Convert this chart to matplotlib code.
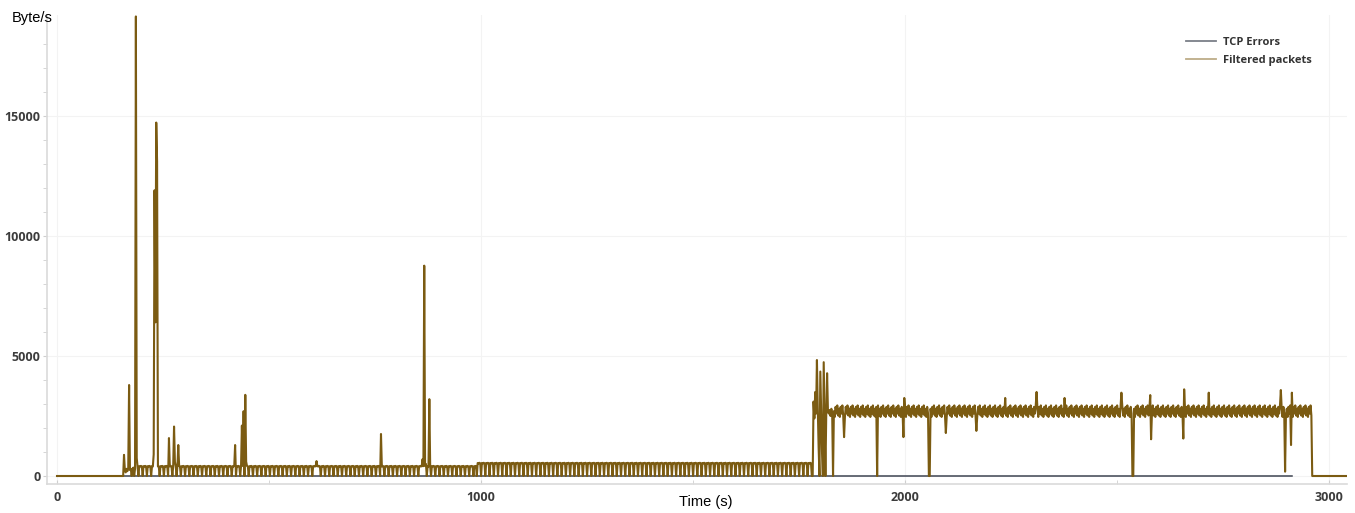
import numpy as np
import matplotlib.pyplot as plt
from matplotlib.lines import Line2D
from matplotlib.ticker import MultipleLocator

# capture sampled every 2 s
step = 2
t_end = 3042

# one period of the repeating traffic on each stretch (byte/s)
quiet_cycle = [0, 410, 395, 420, 400]
busy_cycle = [0, 540, 520, 550, 530]
load_cycle = [2460, 2880, 2600, 2940, 2520, 2800]

# stretch start / end (s)
stretch_start = [192, 990, 1834]
stretch_end = [990, 1782, 2960]
stretch_cycle = [quiet_cycle, busy_cycle, load_cycle]

# single samples: bursts and drop-outs (s, byte/s)
event_t = [158, 160, 162, 164, 166, 168, 170, 172, 174, 176, 178, 180, 182, 184, 186, 188, 190,
           228, 230, 232, 234, 236, 238, 264, 266, 276, 278, 286,
           420, 436, 440, 444, 446, 612, 764, 862, 866, 870, 878,
           1784, 1786, 1788, 1790, 1792, 1794, 1796, 1798, 1800, 1802, 1804, 1806, 1808, 1810,
           1812, 1814, 1816, 1818, 1820, 1822, 1824, 1826, 1828, 1830, 1832,
           1856, 1934, 1996, 1998, 2056, 2058, 2096, 2168, 2236, 2310, 2376,
           2510, 2536, 2538, 2578, 2580, 2656, 2658, 2716, 2886, 2896, 2910, 2912]
event_v = [880, 250, 150, 300, 200, 350, 3790, 250, 300, 0, 300, 350, 0, 300, 19140, 750, 350,
           900, 11900, 6400, 14720, 13100, 400, 1580, 400, 2060, 600, 1290,
           1290, 2100, 2700, 3380, 600, 620, 1750, 700, 8760, 500, 3200,
           3100, 2400, 3500, 2600, 4830, 2800, 1200, 0, 4350, 2600, 1000, 0, 4740, 2500,
           0, 2600, 4280, 2700, 2600, 2750, 2500, 2800, 2600, 0, 2700,
           1620, 0, 1620, 3250, 0, 0, 1790, 1880, 3250, 3500, 3250,
           3470, 0, 0, 3370, 1530, 1560, 3610, 3470, 3580, 180, 1290, 3470]

tcp_err_end = 2912

t = np.arange(0, t_end + step, step)
filtered = np.zeros(len(t))
for a, b, cyc in zip(stretch_start, stretch_end, stretch_cycle):
    i0, i1 = a // step, b // step
    filtered[i0:i1] = np.resize(cyc, i1 - i0)
for et, ev in zip(event_t, event_v):
    filtered[et // step] = ev

t_err = t[t <= tcp_err_end]
tcp_err = np.zeros(len(t_err))

gold = '#7b5b12'
grey = '#5a5f6b'
tick_col = '#3c3c3c'
spine_col = '#dadada'

fig = plt.figure(figsize=(13.55, 5.13), dpi=100)
ax = fig.add_axes([47 / 1355, 1 - 484 / 513, 1300 / 1355, 469 / 513])

ax.plot(t_err, tcp_err, color=grey, lw=1.3, zorder=2)
ax.plot(t, filtered, color=gold, lw=1.5, zorder=3)

ax.set_xlim(-23.6, t_end)
ax.set_ylim(-333, 19200)

ax.xaxis.set_major_locator(MultipleLocator(1000))
ax.xaxis.set_minor_locator(MultipleLocator(500))
ax.yaxis.set_major_locator(MultipleLocator(5000))
ax.yaxis.set_minor_locator(MultipleLocator(1000))
ax.grid(True, which='major', color='#f3f3f3', lw=0.8, zorder=0)

for s in ['top', 'right']:
    ax.spines[s].set_visible(False)
for s in ['left', 'bottom']:
    ax.spines[s].set_color(spine_col)
    ax.spines[s].set_linewidth(1.2)

ax.tick_params(axis='y', which='both', direction='out', length=3, color='#cfcfcf',
               labelsize=9, labelcolor=tick_col, pad=1.5)
ax.tick_params(axis='x', which='both', direction='in', length=3, color='#cfcfcf',
               labelsize=9, labelcolor=tick_col, pad=5)
for lab in ax.get_xticklabels() + ax.get_yticklabels():
    lab.set_family('Open Sans')
    lab.set_fontweight('bold')

handles = [Line2D([], [], color=grey, lw=1.3, alpha=0.8),
           Line2D([], [], color=gold, lw=1.3, alpha=0.5)]
leg = fig.legend(handles, ['TCP Errors', 'Filtered packets'], loc='upper left',
                 bbox_to_anchor=(1176 / 1355, 1 - 27 / 513), frameon=False,
                 handlelength=2.7, handletextpad=0.6, labelspacing=0.6,
                 prop={'family': 'Open Sans', 'size': 8, 'weight': 'bold'})
for txt in leg.get_texts():
    txt.set_color('#333333')

fig.text(12 / 1355, 1 - 18 / 513, 'Byte/s', family='Liberation Sans', fontsize=10.5,
         va='center', ha='left', color='black')
fig.text(706 / 1355, 1 - 502 / 513, 'Time (s)', family='Liberation Sans', fontsize=10.5,
         va='center', ha='center', color='black')

fig.savefig('out.png', dpi=100)
